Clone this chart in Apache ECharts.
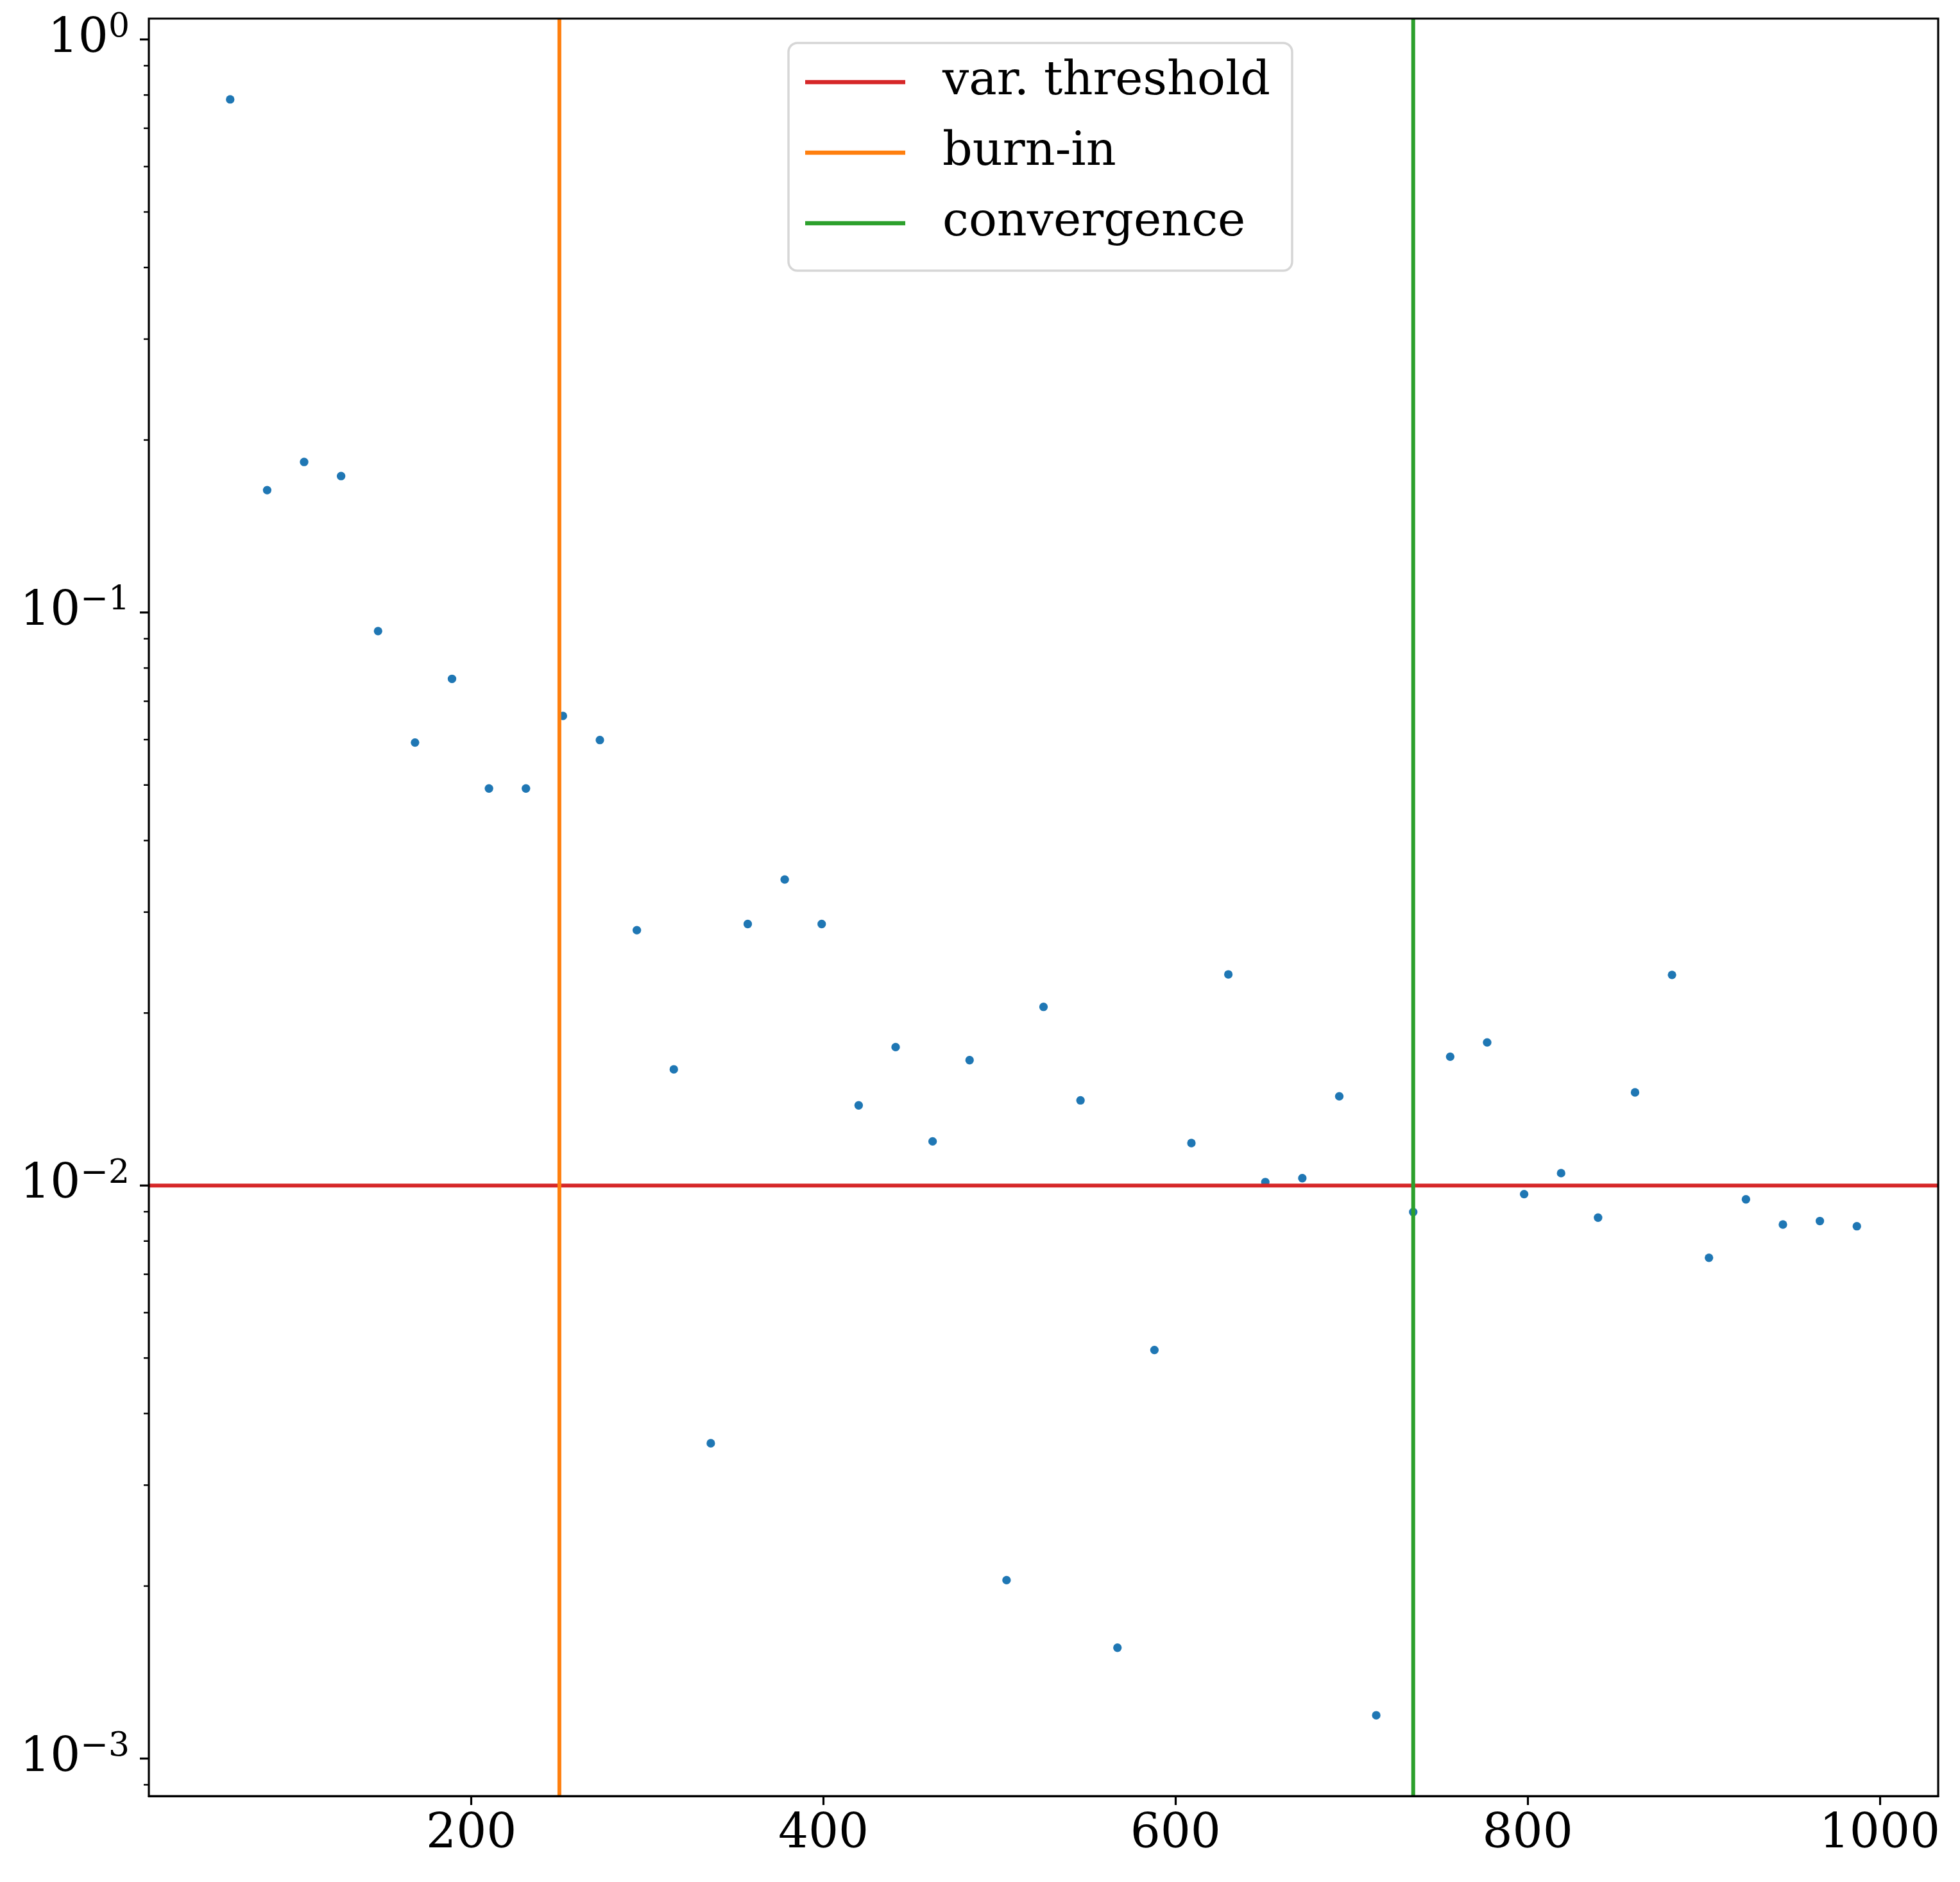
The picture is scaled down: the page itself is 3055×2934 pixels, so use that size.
<!DOCTYPE html>
<html>
<head>
<meta charset="utf-8">
<script src="https://cdn.jsdelivr.net/npm/echarts@6/dist/echarts.min.js"></script>
<style>
  html, body { margin: 0; padding: 0; background: #fff; }
  #chart { width: 3055px; height: 2934px; }
</style>
</head>
<body>
<div id="chart"></div>
<script>
// iteration at which each variance estimate was taken
var iterations = [63, 84, 105, 126, 147, 168, 189, 210, 231, 252, 273, 294, 315, 336, 357,
  378, 399, 420, 441, 462, 483, 504, 525, 546, 567, 588, 609, 630, 651, 672,
  693, 714, 735, 756, 777, 798, 819, 840, 861, 882, 903, 924, 945, 966, 987];
var variances = [0.786, 0.1635, 0.1831, 0.1730, 0.0928, 0.0593, 0.0766, 0.0493, 0.0493, 0.0660,
  0.0599, 0.0279, 0.01595, 0.00355, 0.0286, 0.0342, 0.0286, 0.0138, 0.01744, 0.01194,
  0.01655, 0.002048, 0.0205, 0.01408, 0.001561, 0.005164, 0.01186, 0.02336, 0.01014, 0.0103,
  0.01431, 0.00119, 0.00899, 0.01678, 0.01777, 0.00966, 0.01051, 0.00879, 0.01454, 0.02331,
  0.00748, 0.00946, 0.00855, 0.00867, 0.00849];
var varThreshold = 0.01;
var burnIn = 250;
var convergence = 735;
var xTickValues = [200, 400, 600, 800, 1000];
var yMajorTicks = [0.001, 0.01, 0.1, 1];
var yMinorTicks = [0.0009,
  0.002, 0.003, 0.004, 0.005, 0.006, 0.007, 0.008, 0.009,
  0.02, 0.03, 0.04, 0.05, 0.06, 0.07, 0.08, 0.09,
  0.2, 0.3, 0.4, 0.5, 0.6, 0.7, 0.8, 0.9];

// autoscale like matplotlib: 5% margins (log space for y)
var xLo = Math.min.apply(null, iterations), xHi = Math.max.apply(null, iterations);
var xMin = xLo - 0.05 * (xHi - xLo), xMax = xHi + 0.05 * (xHi - xLo);
var lLo = Math.log10(Math.min.apply(null, variances)), lHi = Math.log10(Math.max.apply(null, variances));
var yMin = Math.pow(10, lLo - 0.05 * (lHi - lLo)), yMax = Math.pow(10, lHi + 0.05 * (lHi - lLo));

var FONT = 'DejaVu Serif';
var points = iterations.map(function (x, i) { return [x, variances[i]]; });

// y ticks drawn by hand so the log axis gets matplotlib-style minor ticks
function tickSeries(values, len, width) {
  return {
    type: 'custom',
    silent: true,
    clip: false,
    z: 6,
    data: values.map(function (v) { return [xMin, v]; }),
    renderItem: function (params, api) {
      var p = api.coord([api.value(0), api.value(1)]);
      return {
        type: 'line',
        shape: { x1: p[0] - len, y1: p[1], x2: p[0], y2: p[1] },
        style: { stroke: '#000', lineWidth: width }
      };
    }
  };
}

var chart = echarts.init(document.getElementById('chart'));
chart.setOption({
  animation: false,
  backgroundColor: '#fff',
  grid: {
    left: 232, right: 34, top: 29, bottom: 134,
    show: true, borderColor: '#000', borderWidth: 3.2, backgroundColor: 'transparent', z: 4
  },
  legend: {
    data: ['var. threshold', 'burn-in', 'convergence'],
    orient: 'vertical',
    left: 1229, top: 67,
    padding: [16, 34, 29, 26],
    itemWidth: 156, itemHeight: 6.5, itemGap: 20,
    icon: 'rect',
    backgroundColor: 'rgba(255,255,255,0.8)',
    borderColor: 'rgba(204,204,204,0.8)',
    borderWidth: 3.5,
    borderRadius: 14,
    textStyle: { fontFamily: FONT, fontSize: 73, lineHeight: 90, color: '#000', padding: [0, 0, 0, 53] }
  },
  xAxis: {
    type: 'value',
    min: xMin, max: xMax,
    splitLine: { show: false },
    axisLine: { show: true, lineStyle: { color: '#000', width: 3.2 } },
    axisTick: { show: true, customValues: xTickValues, length: 14, lineStyle: { color: '#000', width: 3.2 } },
    axisLabel: {
      customValues: xTickValues, fontFamily: FONT, fontSize: 74, color: '#000', margin: 24,
      formatter: function (v) { return String(v); }
    }
  },
  yAxis: {
    type: 'log',
    logBase: 10,
    min: yMin, max: yMax,
    splitLine: { show: false },
    axisLine: { show: false },
    axisTick: { show: false },
    axisLabel: {
      showMinLabel: false, showMaxLabel: false,
      margin: 30,
      formatter: function (v) {
        var e = Math.round(Math.log10(v));
        return '{b|10}{s|' + (e < 0 ? '\u2212' + (-e) : e) + '}';
      },
      rich: {
        b: { fontFamily: FONT, fontSize: 74, color: '#000' },
        s: { fontFamily: FONT, fontSize: 52, color: '#000', padding: [0, 0, 36, 0] }
      }
    }
  },
  series: [
    {
      type: 'scatter',
      data: points,
      symbolSize: 13.3,
      itemStyle: { color: '#1f77b4', opacity: 1 },
      z: 2
    },
    {
      name: 'var. threshold',
      type: 'line',
      data: [[xMin, varThreshold], [xMax, varThreshold]],
      symbol: 'none',
      itemStyle: { color: '#d62728' },
      lineStyle: { color: '#d62728', width: 6 },
      z: 3
    },
    {
      name: 'burn-in',
      type: 'line',
      data: [[burnIn, yMin], [burnIn, yMax]],
      symbol: 'none',
      itemStyle: { color: '#ff7f0e' },
      lineStyle: { color: '#ff7f0e', width: 6 },
      z: 3
    },
    {
      name: 'convergence',
      type: 'line',
      data: [[convergence, yMin], [convergence, yMax]],
      symbol: 'none',
      itemStyle: { color: '#2ca02c' },
      lineStyle: { color: '#2ca02c', width: 6 },
      z: 3
    },
    tickSeries(yMajorTicks, 14, 3.2),
    tickSeries(yMinorTicks, 8, 2.4)
  ]
});
</script>
</body>
</html>
